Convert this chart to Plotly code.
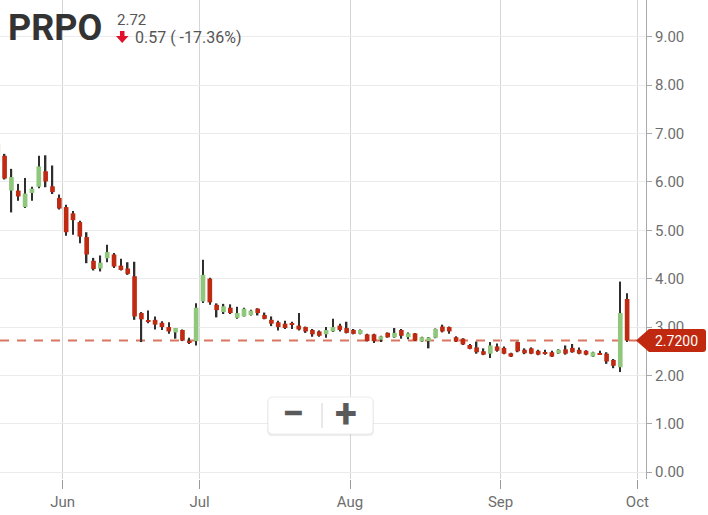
import plotly.graph_objects as go
import pandas as pd

# ---------------- data ----------------
ticker = "PRPO"
last_price = "2.72"
change_text = "0.57 ( -17.36%)"
price_tag = "2.7200"
month_labels = ["Jun", "Jul", "Aug", "Sep", "Oct"]
y_ticks = [0, 1, 2, 3, 4, 5, 6, 7, 8, 9]

holidays = ["2019-05-27", "2019-07-04", "2019-09-02"]
sessions = [d for d in pd.bdate_range("2019-05-17", "2019-10-01")
            if d.strftime("%Y-%m-%d") not in holidays]

opens = [6.78, 6.54, 5.82, 5.82, 5.48, 5.77, 5.90, 6.22, 5.91, 5.67,
         5.48, 5.35, 5.17, 4.86, 4.37, 4.21, 4.42, 4.50, 4.27, 4.21,
         4.05, 3.29, 3.14, 3.15, 3.09, 3.00, 2.89, 2.94, 2.70, 2.71,
         3.53, 4.00, 3.46, 3.31, 3.40, 3.19, 3.22, 3.25, 3.38, 3.25,
         3.15, 3.10, 3.07, 3.07, 3.03, 3.00, 2.94, 2.91, 2.85, 2.91,
         3.03, 2.98, 2.94, 2.86, 2.85, 2.85, 2.74, 2.88, 2.79, 2.94,
         2.79, 2.87, 2.70, 2.71, 2.78, 3.01, 3.00, 2.79, 2.76, 2.63,
         2.58, 2.50, 2.45, 2.60, 2.57, 2.46, 2.69, 2.53, 2.56, 2.51,
         2.47, 2.48, 2.46, 2.54, 2.57, 2.53, 2.51, 2.39, 2.45, 2.45,
         2.32, 2.17, 3.58]
highs = [6.85, 6.58, 6.27, 5.96, 6.08, 5.90, 6.54, 6.55, 6.34, 5.74,
         5.53, 5.40, 5.20, 4.96, 4.43, 4.48, 4.70, 4.53, 4.41, 4.34,
         4.35, 3.31, 3.34, 3.22, 3.12, 3.10, 2.98, 2.95, 2.78, 3.49,
         4.39, 4.02, 3.49, 3.48, 3.47, 3.42, 3.40, 3.36, 3.39, 3.30,
         3.22, 3.13, 3.13, 3.11, 3.29, 3.01, 2.96, 2.93, 3.00, 3.17,
         3.07, 3.11, 2.96, 2.95, 2.86, 2.86, 2.82, 2.89, 2.98, 2.96,
         2.89, 2.88, 2.80, 2.79, 2.97, 3.05, 3.01, 2.81, 2.77, 2.65,
         2.70, 2.56, 2.69, 2.66, 2.60, 2.47, 2.70, 2.56, 2.58, 2.53,
         2.53, 2.51, 2.54, 2.62, 2.65, 2.58, 2.52, 2.49, 2.51, 2.48,
         2.34, 3.94, 3.70]
lows = [6.35, 6.05, 5.37, 5.61, 5.46, 5.61, 5.87, 5.89, 5.75, 5.43,
        4.89, 4.91, 4.73, 4.32, 4.17, 4.15, 4.34, 4.22, 4.17, 4.08,
        3.15, 2.69, 3.08, 2.95, 2.94, 2.86, 2.76, 2.71, 2.65, 2.62,
        3.50, 3.46, 3.20, 3.27, 3.27, 3.17, 3.22, 3.24, 3.24, 3.16,
        3.02, 2.93, 2.96, 2.96, 2.93, 2.88, 2.80, 2.80, 2.78, 2.90,
        2.91, 2.87, 2.85, 2.85, 2.70, 2.67, 2.69, 2.78, 2.78, 2.76,
        2.75, 2.71, 2.69, 2.56, 2.77, 2.89, 2.86, 2.69, 2.63, 2.54,
        2.45, 2.42, 2.36, 2.49, 2.44, 2.38, 2.48, 2.44, 2.44, 2.42,
        2.43, 2.38, 2.45, 2.43, 2.47, 2.44, 2.42, 2.38, 2.43, 2.24,
        2.15, 2.07, 2.69]
closes = [6.42, 6.07, 6.10, 5.70, 5.76, 5.86, 6.32, 6.01, 5.79, 5.45,
          4.96, 5.21, 4.87, 4.50, 4.20, 4.33, 4.55, 4.25, 4.18, 4.10,
          3.22, 3.16, 3.12, 3.05, 3.00, 2.91, 2.98, 2.72, 2.68, 3.40,
          4.08, 3.51, 3.35, 3.43, 3.29, 3.29, 3.38, 3.34, 3.29, 3.17,
          3.07, 3.00, 2.98, 3.05, 2.95, 2.91, 2.85, 2.82, 2.94, 3.00,
          2.94, 2.88, 2.86, 2.94, 2.71, 2.71, 2.81, 2.79, 2.88, 2.82,
          2.87, 2.72, 2.79, 2.78, 2.96, 2.91, 2.91, 2.70, 2.64, 2.55,
          2.48, 2.43, 2.62, 2.51, 2.45, 2.39, 2.50, 2.46, 2.45, 2.43,
          2.46, 2.39, 2.53, 2.45, 2.48, 2.45, 2.43, 2.48, 2.44, 2.29,
          2.20, 3.29, 2.72]

# ---------------- geometry / style ----------------
W, H = 708, 515
ML, MR, MT, MB = 0, 62, 0, 36
PW, PH = W - ML - MR, H - MT - MB
Y_RANGE = [-0.14, 9.76]
X_RANGE = [0.33, 94.76]

RED = "#bf2b12"
GREEN = "#8fc77c"
WICK = "#2e2e2e"
FONT = "Roboto"


def px(xp):
    return (xp - ML) / PW


def py(yp):
    return 1 - (yp - MT) / PH


def vy(v):
    return (v - Y_RANGE[0]) / (Y_RANGE[1] - Y_RANGE[0])


n = len(opens)
idx = list(range(n))
body_base = [min(o, c) for o, c in zip(opens, closes)]
body_len = [max(abs(c - o), 0.012) for o, c in zip(opens, closes)]
body_col = [GREEN if c > o else RED for o, c in zip(opens, closes)]

# month ticks: boundary between last session of a month and first of next
tickvals = []
for i in range(1, len(sessions)):
    if sessions[i].month != sessions[i - 1].month:
        tickvals.append(i - 0.5)

fig = go.Figure()
fig.add_trace(go.Bar(x=idx, base=lows, y=[h - l for h, l in zip(highs, lows)],
                     width=0.22, marker=dict(color=WICK, line=dict(width=0)),
                     hoverinfo="skip", showlegend=False))
fig.add_trace(go.Bar(x=idx, base=body_base, y=body_len, width=0.68,
                     marker=dict(color=body_col, line=dict(width=0)),
                     hoverinfo="skip", showlegend=False))

shapes = []
# header backdrop
shapes.append(dict(type="rect", xref="paper", yref="paper", x0=px(0), x1=px(258),
                   y0=py(54), y1=py(6), fillcolor="white", line=dict(width=0),
                   layer="between"))
# last price dashed line
last = closes[-1]
shapes.append(dict(type="line", xref="paper", yref="y", x0=0, x1=1, y0=last, y1=last,
                   line=dict(color="#d9765f", width=2, dash="9px,8px"), layer="between"))
# price tag
yc = vy(last)
hh = 11.5 / PH
tip = px(636)
b0 = px(649)
b1 = px(706)
r = 3 / PW
rv = 3 / PH
tag_path = (f"M{tip},{yc} L{b0},{yc + hh} L{b1 - r},{yc + hh} Q{b1},{yc + hh} {b1},{yc + hh - rv} "
            f"L{b1},{yc - hh + rv} Q{b1},{yc - hh} {b1 - r},{yc - hh} L{b0},{yc - hh} Z")
shapes.append(dict(type="path", xref="paper", yref="paper", path=tag_path,
                   fillcolor="#c0290f", line=dict(width=0), layer="above"))
# down arrow in header
ax = [(120, 31), (124.5, 31), (124.5, 36), (128.5, 36), (122.2, 43), (116, 36), (120, 36)]
arrow_path = "M" + " L".join(f"{px(a)},{py(b)}" for a, b in ax) + " Z"
shapes.append(dict(type="path", xref="paper", yref="paper", path=arrow_path,
                   fillcolor="#e3102b", line=dict(width=0), layer="above"))


def rrect(x0, y0, x1, y1, rad):
    rx, ry = rad / PW, rad / PH
    X0, X1, Y0, Y1 = px(x0), px(x1), py(y1), py(y0)
    return (f"M{X0 + rx},{Y1} L{X1 - rx},{Y1} Q{X1},{Y1} {X1},{Y1 - ry} L{X1},{Y0 + ry} "
            f"Q{X1},{Y0} {X1 - rx},{Y0} L{X0 + rx},{Y0} Q{X0},{Y0} {X0},{Y0 + ry} "
            f"L{X0},{Y1 - ry} Q{X0},{Y1} {X0 + rx},{Y1} Z")


# zoom control box with soft shadow
shapes.append(dict(type="path", xref="paper", yref="paper", path=rrect(267, 398, 374, 436, 5),
                   fillcolor="rgba(0,0,0,0.07)", line=dict(width=0), layer="above"))
shapes.append(dict(type="path", xref="paper", yref="paper", path=rrect(268, 397, 373, 434, 5),
                   fillcolor="white", line=dict(color="#ececec", width=1), layer="above"))
shapes.append(dict(type="line", xref="paper", yref="paper", x0=px(322), x1=px(322),
                   y0=py(403), y1=py(428), line=dict(color="#d2d2d2", width=1), layer="above"))

annotations = [
    dict(text=f"<b>{ticker}</b>", x=px(7), y=py(28), xref="paper", yref="paper",
         xanchor="left", yanchor="middle", showarrow=False, borderpad=0,
         font=dict(family=FONT, size=36, color="#333333")),
    dict(text=last_price, x=px(116), y=py(20), xref="paper", yref="paper",
         xanchor="left", yanchor="middle", showarrow=False, borderpad=0,
         font=dict(family=FONT, size=15, color="#555555")),
    dict(text=change_text, x=px(134), y=py(37.5), xref="paper", yref="paper",
         xanchor="left", yanchor="middle", showarrow=False, borderpad=0,
         font=dict(family=FONT, size=16, color="#555555")),
    dict(text=price_tag, x=px(676), y=yc, xref="paper", yref="paper",
         xanchor="center", yanchor="middle", showarrow=False, borderpad=0,
         font=dict(family=FONT, size=14, color="white")),
    dict(text="<b>−</b>", x=px(293), y=py(413), xref="paper", yref="paper",
         xanchor="center", yanchor="middle", showarrow=False, borderpad=0,
         font=dict(family=FONT, size=40, color="#5a5a5a")),
    dict(text="<b>+</b>", x=px(346), y=py(413), xref="paper", yref="paper",
         xanchor="center", yanchor="middle", showarrow=False, borderpad=0,
         font=dict(family=FONT, size=40, color="#5a5a5a")),
]

fig.update_layout(
    width=W, height=H, margin=dict(l=ML, r=MR, t=MT, b=MB),
    paper_bgcolor="white", plot_bgcolor="white",
    barmode="overlay", showlegend=False, hovermode=False,
    shapes=shapes, annotations=annotations,
    xaxis=dict(range=X_RANGE, tickmode="array", tickvals=tickvals, ticktext=month_labels,
               showgrid=True, gridcolor="#d5d5d5", gridwidth=1, zeroline=False,
               showline=False, ticks="outside", ticklen=9, tickcolor="#9a9a9a",
               automargin=False, fixedrange=True,
               tickfont=dict(family=FONT, size=15, color="#6e6e6e")),
    yaxis=dict(range=Y_RANGE, side="right", tickmode="array", tickvals=y_ticks,
               ticktext=[f"{v:.2f}" for v in y_ticks],
               showgrid=True, gridcolor="#ebebeb", gridwidth=1, zeroline=False,
               showline=True, linecolor="#a9a9a9", linewidth=1, ticks="outside",
               ticklen=5, tickcolor="#a9a9a9", automargin=False, fixedrange=True,
               tickfont=dict(family=FONT, size=15, color="#6e6e6e")),
)

fig.write_html("out.html", config={"displayModeBar": False},
               post_script="document.body.style.margin='0';document.body.style.padding='0';")
